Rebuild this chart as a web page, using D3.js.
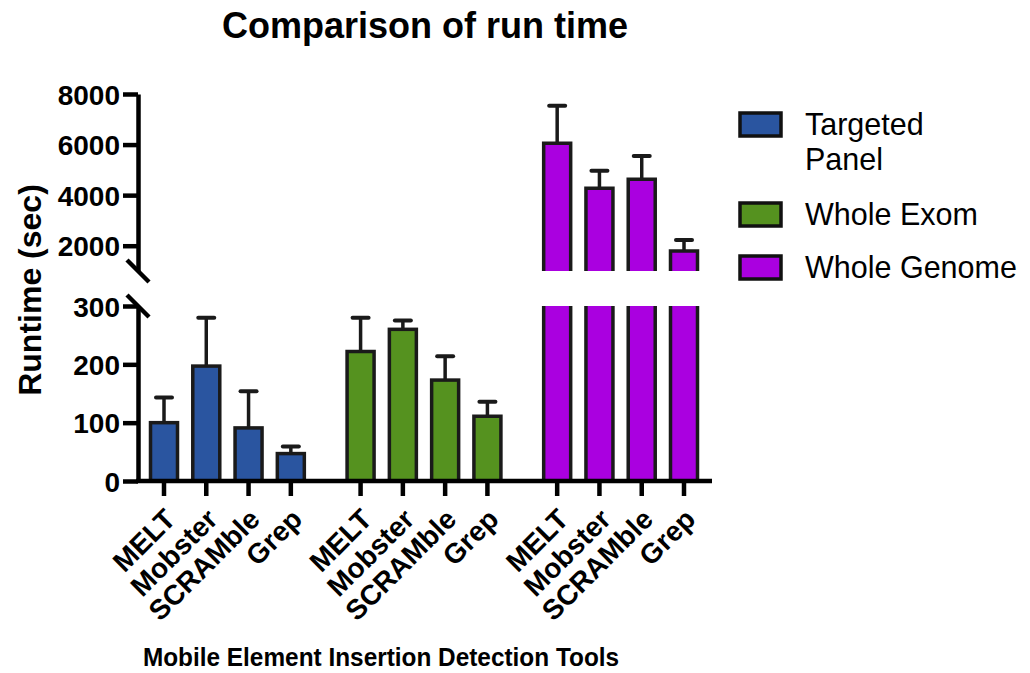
<!DOCTYPE html>
<html>
<head>
<meta charset="utf-8">
<script src="https://cdn.jsdelivr.net/npm/d3@7"></script>
<style>
  body { margin: 0; background: #fff; }
  text { font-family: "Liberation Sans", Arial, sans-serif; }
</style>
</head>
<body>
<div id="chart"></div>
<script>
const width = 1030;
const height = 673;

// data
const groups = ["Targeted Panel", "Whole Exom", "Whole Genome"];
const tools = ["MELT", "Mobster", "SCRAMble", "Grep"];
const colors = ["#2a55a0", "#55921f", "#aa00e0"];
const panelMean = [100, 197, 91, 47];
const panelErr = [143, 280, 154, 59];
const exomMean = [222, 260, 173, 111];
const exomErr = [280, 275, 214, 136];
const genomeMean = [6050, 4270, 4630, 1790];
const genomeErr = [7540, 4960, 5550, 2230];
const lowTicks = [0, 100, 200, 300];
const highTicks = [2000, 4000, 6000, 8000];

const means = [panelMean, exomMean, genomeMean];
const errs = [panelErr, exomErr, genomeErr];

const bars = [];
groups.forEach(function(g, gi) {
    tools.forEach(function(t, ti) {
        bars.push({group: gi, tool: t, slot: gi * 4.65 + ti,
                   mean: means[gi][ti], err: errs[gi][ti]});
    });
});

const svg = d3.select("#chart").append("svg")
    .attr("width", width)
    .attr("height", height);

const axisX = 138;
const x = d3.scaleLinear().domain([0, 12.3]).range([164, 684]);
const yLow = d3.scaleLinear().domain([0, 300]).range([481, 306]);
const yHigh = d3.scaleLinear().domain([1000, 8000]).range([271, 94]);
const barW = 27;

// bars
const barG = svg.append("g");
bars.forEach(function(d) {
    const cx = x(d.slot);
    const left = cx - barW / 2, right = cx + barW / 2;
    if (d.mean <= 300) {
        barG.append("rect")
            .attr("x", left).attr("width", barW)
            .attr("y", yLow(d.mean)).attr("height", yLow(0) - yLow(d.mean))
            .attr("fill", colors[d.group])
            .attr("stroke", "#1a1a1a").attr("stroke-width", 3.5);
        barG.append("line")
            .attr("x1", cx).attr("x2", cx)
            .attr("y1", yLow(d.mean)).attr("y2", yLow(d.err))
            .attr("stroke", "#1a1a1a").attr("stroke-width", 3.5);
        barG.append("line")
            .attr("x1", cx - 8).attr("x2", cx + 8)
            .attr("y1", yLow(d.err)).attr("y2", yLow(d.err))
            .attr("stroke", "#1a1a1a").attr("stroke-width", 4)
            .attr("stroke-linecap", "round");
    } else {
        // broken bar: lower piece up to 300, upper piece from 1000
        barG.append("rect")
            .attr("x", left).attr("width", barW)
            .attr("y", yLow(300)).attr("height", yLow(0) - yLow(300))
            .attr("fill", colors[d.group]);
        barG.append("path")
            .attr("d", "M" + left + "," + yLow(300) + "V" + yLow(0) + "H" + right + "V" + yLow(300))
            .attr("fill", "none").attr("stroke", "#1a1a1a").attr("stroke-width", 3.5);
        barG.append("rect")
            .attr("x", left).attr("width", barW)
            .attr("y", yHigh(d.mean)).attr("height", yHigh(1000) - yHigh(d.mean))
            .attr("fill", colors[d.group]);
        barG.append("path")
            .attr("d", "M" + left + "," + yHigh(1000) + "V" + yHigh(d.mean) + "H" + right + "V" + yHigh(1000))
            .attr("fill", "none").attr("stroke", "#1a1a1a").attr("stroke-width", 3.5);
        barG.append("line")
            .attr("x1", cx).attr("x2", cx)
            .attr("y1", yHigh(d.mean)).attr("y2", yHigh(d.err))
            .attr("stroke", "#1a1a1a").attr("stroke-width", 3.5);
        barG.append("line")
            .attr("x1", cx - 8).attr("x2", cx + 8)
            .attr("y1", yHigh(d.err)).attr("y2", yHigh(d.err))
            .attr("stroke", "#1a1a1a").attr("stroke-width", 4)
            .attr("stroke-linecap", "round");
    }
});

// y axes
function styleAxis(g) {
    g.select(".domain").attr("stroke", "#000").attr("stroke-width", 4.5);
    g.selectAll(".tick line").attr("stroke", "#000").attr("stroke-width", 4.5);
    g.selectAll(".tick text")
        .attr("font-size", 28).attr("font-weight", "bold")
        .attr("fill", "#000").attr("font-family", "Liberation Sans, Arial, sans-serif")
        .attr("dy", "0.36em");
}

svg.append("g")
    .attr("transform", "translate(" + axisX + ",0)")
    .call(d3.axisLeft(yLow).tickValues(lowTicks).tickFormat(d3.format("d"))
        .tickSize(15).tickSizeOuter(0).tickPadding(3))
    .call(styleAxis);

svg.append("g")
    .attr("transform", "translate(" + axisX + ",0)")
    .call(d3.axisLeft(yHigh).tickValues(highTicks).tickFormat(d3.format("d"))
        .tickSize(15).tickSizeOuter(0).tickPadding(3))
    .call(styleAxis);

// break marks
[yHigh(1000), yLow(300)].forEach(function(yy) {
    svg.append("line")
        .attr("x1", axisX - 11).attr("y1", yy - 11)
        .attr("x2", axisX + 11).attr("y2", yy + 11)
        .attr("stroke", "#000").attr("stroke-width", 4.5);
});

// x axis
svg.append("line")
    .attr("x1", axisX - 2).attr("x2", 712)
    .attr("y1", yLow(0)).attr("y2", yLow(0))
    .attr("stroke", "#000").attr("stroke-width", 4.5);

const xl = svg.append("g");
bars.forEach(function(d) {
    const cx = x(d.slot);
    xl.append("line")
        .attr("x1", cx).attr("x2", cx)
        .attr("y1", yLow(0)).attr("y2", yLow(0) + 15)
        .attr("stroke", "#000").attr("stroke-width", 4.5);
    xl.append("text")
        .attr("transform", "translate(" + (cx + 13) + ",521) rotate(-45)")
        .attr("text-anchor", "end")
        .attr("font-size", 28).attr("font-weight", "bold")
        .text(d.tool);
});

// titles
svg.append("text")
    .attr("x", 425).attr("y", 38)
    .attr("text-anchor", "middle")
    .attr("font-size", 36).attr("font-weight", "bold")
    .text("Comparison of run time");

svg.append("text")
    .attr("transform", "translate(381,666) scale(0.92,1)")
    .attr("text-anchor", "middle")
    .attr("font-size", 26.5).attr("font-weight", "bold")
    .text("Mobile Element Insertion Detection Tools");

svg.append("text")
    .attr("transform", "translate(41,290) rotate(-90)")
    .attr("text-anchor", "middle")
    .attr("font-size", 32).attr("font-weight", "bold")
    .text("Runtime (sec)");

// legend
const legendRows = [
    {lines: ["Targeted", "Panel"], y: 112},
    {lines: ["Whole Exom"], y: 202},
    {lines: ["Whole Genome"], y: 255}
];
legendRows.forEach(function(r, i) {
    svg.append("rect")
        .attr("x", 740).attr("y", r.y + 1)
        .attr("width", 41).attr("height", 23)
        .attr("fill", colors[i])
        .attr("stroke", "#111").attr("stroke-width", 3.5);
    const t = svg.append("text")
        .attr("x", 805).attr("y", r.y + 23)
        .attr("font-size", 30.5);
    r.lines.forEach(function(s, k) {
        t.append("tspan").attr("x", 805).attr("dy", k === 0 ? 0 : 35).text(s);
    });
});
</script>
</body>
</html>
